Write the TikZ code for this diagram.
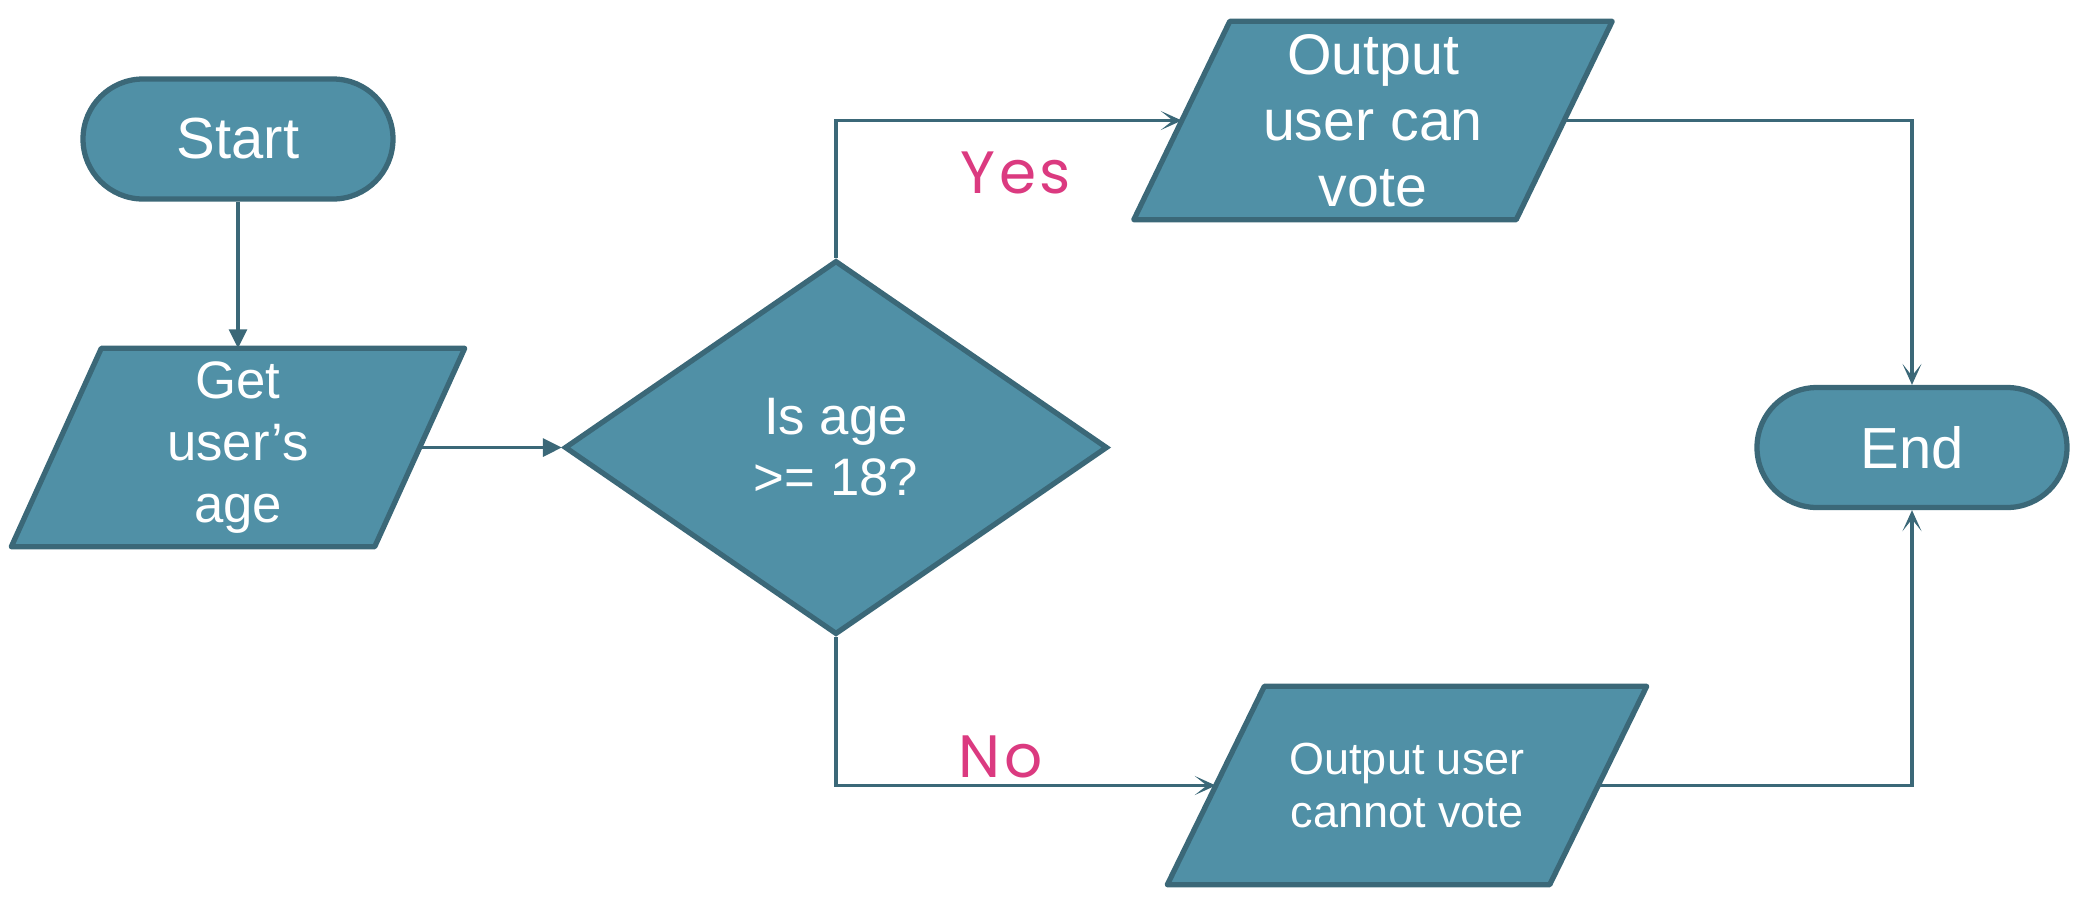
\documentclass[tikz,border=0pt]{standalone}
\usepackage{fontspec}
\setmainfont{Liberation Sans}
\newfontfamily\replyfont[LetterSpace=6]{Poppins}
\usepackage{tikz}
\usetikzlibrary{positioning}
\usetikzlibrary{shapes.geometric}
\usetikzlibrary{arrows.meta}
\pgfdeclarelayer{background}
\pgfsetlayers{background,main}

\definecolor{boxfill}{HTML}{5090A6}
\definecolor{boxline}{HTML}{3B6878}
\definecolor{replypink}{HTML}{DB3A80}

\begin{document}
\begin{tikzpicture}[draw=boxline,
        terminal/.style={rectangle, rounded corners=0.6cm, draw=boxline, fill=boxfill,
            line width=1.5pt, text=white, minimum width=3.1cm, minimum height=1.2cm,
            font=\fontsize{16.5}{19}\selectfont},
        io/.style={rectangle, text=white, align=center, inner sep=0pt,
            minimum width=3.81cm, minimum height=1.97cm,
            font=\fontsize{16.3}{18.8}\selectfont},
        iobox/.style={draw=boxline, fill=boxfill, line width=1.5pt, line join=round},
        decision/.style={diamond, draw=boxline, fill=boxfill, line width=1.5pt,
            text=white, align=center, inner sep=0pt, minimum width=5.43cm,
            minimum height=3.74cm, font=\fontsize{15}{17.3}\selectfont},
        reply/.style={text=replypink, font=\replyfont\fontsize{17}{20}\selectfont},
        feed/.style={draw=boxline, line width=0.9pt, -{Triangle[length=0.19cm, width=0.18cm]}},
        flow/.style={draw=boxline, line width=0.9pt, -{Stealth[length=0.21cm, width=0.19cm, inset=0.12cm]}}]
            \useasboundingbox (0,0) rectangle (20.74,-9.14);

            \node [terminal] (start) at (2.38,-1.39) {Start};
            \node [io, below of=start, node distance=3.085cm, minimum width=3.62cm,
                font=\fontsize{15}{17.6}\selectfont] (getage) {Get\\user’s\\age};
            \node [decision, right of=getage, node distance=5.98cm] (check) {Is age\\>= 18?};
            \node [io, right of=check, node distance=5.37cm, yshift=3.27cm] (canvote)
                {Output\\user can\\vote};
            \node [io, right of=check, node distance=5.71cm, yshift=-3.38cm,
                font=\fontsize{12.8}{15}\selectfont] (cannotvote) {Output user\\cannot vote};
            \node [terminal, right of=check, node distance=10.76cm] (finish) {End};

            % slanted input/output boxes behind the text
            \begin{pgfonlayer}{background}
                \foreach \io/\half in {getage/0.45, canvote/0.48, cannotvote/0.485}
                    \draw [iobox] ([xshift=-\half cm]\io.south west)
                        -- ([xshift=\half cm]\io.north west)
                        -- ([xshift=\half cm]\io.north east)
                        -- ([xshift=-\half cm]\io.south east) -- cycle;
            \end{pgfonlayer}

            \draw [feed] (start) -- (getage);
            \draw [feed] (getage) -- (check);
            \draw [flow] (check.north) |- node[reply, pos=0.76, yshift=-0.52cm] {Yes} (canvote.west);
            \draw [flow] (check.south) |- node[reply, pos=0.717, yshift=0.29cm] {No} (cannotvote.west);
            \draw [flow] (canvote.east) -| (finish.north);
            \draw [flow] (cannotvote.east) -| (finish.south);
        \end{tikzpicture}
\end{document}
